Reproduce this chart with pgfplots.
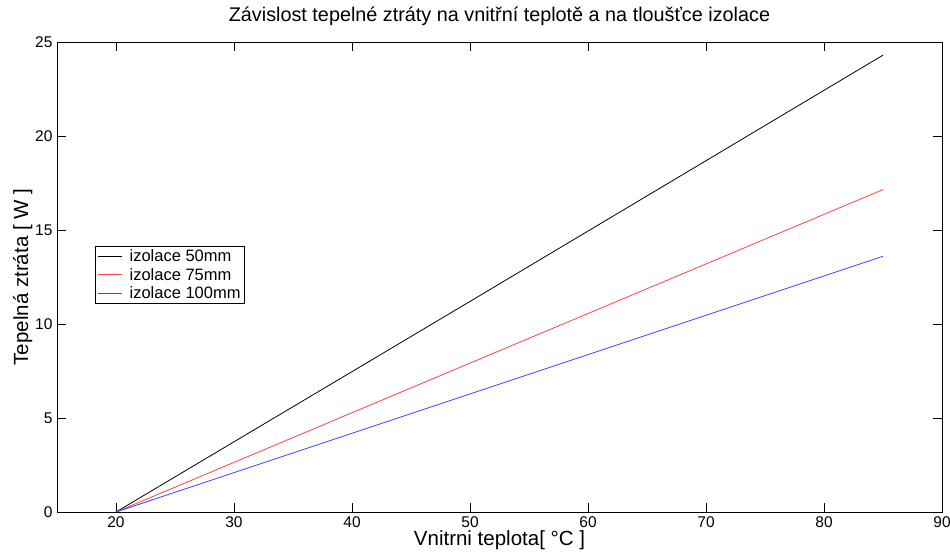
\documentclass[border=0pt]{standalone}
\usepackage{fontspec}
\setmainfont{Liberation Sans}
\usepackage{pgfplots}
\pgfplotsset{compat=1.18}
\newcommand{\lgs}{\rule[-5pt]{0pt}{18pt}\hspace{5pt}}
\begin{document}
\begin{tikzpicture}
\useasboundingbox (-57pt,-42pt) rectangle (893pt,512pt);
\begin{axis}[
  at={(0,0)}, anchor=south west,
  scale only axis,
  width=885pt, height=470pt,
  xmin=15, xmax=90, ymin=0, ymax=25,
  xtick={20,30,...,90}, ytick={0,5,...,25},
  tick align=inside,
  major tick length=9pt,
  tick style={black, line width=0.7pt},
  axis line style={black, line width=0.9pt},
  /pgf/number format/assume math mode=true,
  tick label style={font=\fontsize{15.5}{18}\selectfont},
  xticklabel style={yshift=-1pt},
  yticklabel style={xshift=-1pt},
  title={Závislost tepelné ztráty na vnitřní teplotě a na tloušťce izolace},
  title style={font=\fontsize{19.8}{22}\selectfont, at={(0.5,1)}, anchor=base, yshift=14pt},
  xlabel={Vnitrni teplota[ °C ]},
  ylabel={Tepelná ztráta [ W ]},
  label style={font=\fontsize{20.5}{24}\selectfont},
  xlabel style={yshift=4pt},
  ylabel style={yshift=-4pt},
  legend style={at={(0.043,0.567)}, anchor=north west, draw=black, line width=0.8pt,
    font=\fontsize{16.5}{20}\selectfont, row sep=0pt, inner xsep=2pt, inner ysep=1pt},
  legend cell align=left,
  legend image code/.code={\draw[#1, line width=1.2pt] (0pt,0pt) -- (24pt,0pt);},
]
\addplot[black, line width=0.8pt] coordinates {(20,0) (50,11.2) (85,24.3)};
\addplot[red!75, line width=0.8pt] coordinates {(20,0) (50,7.92) (85,17.15)};
\addplot[blue!75, line width=0.8pt] coordinates {(20,0) (50,6.28) (85,13.6)};
\legend{\lgs izolace 50mm, \lgs izolace 75mm, \lgs izolace 100mm}
\end{axis}
\end{tikzpicture}
\end{document}
